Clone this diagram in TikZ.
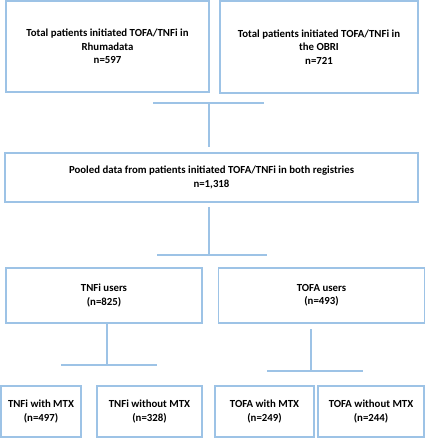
\documentclass[tikz,border=0pt]{standalone}
\usepackage{fontspec}
\setmainfont{Carlito}
\definecolor{boxblue}{HTML}{9DC3E6}
\begin{document}
\begin{tikzpicture}[x=1pt,y=-1pt,
  box/.style={draw=boxblue,line width=1.2pt,fill=white,align=center,inner sep=0pt,
    font=\fontsize{10.8}{13.5}\selectfont\bfseries},
  conn/.style={draw=boxblue,line width=1.2pt}]
\useasboundingbox[fill=white] (0,0) rectangle (425,440);
% top row
\node[box,minimum width=203pt,minimum height=91pt] (rh) at (107.5,46.5)
  {Total patients initiated TOFA/TNFi in\\Rhumadata\\n=597};
\node[box,minimum width=198pt,minimum height=92pt] (ob) at (319,47)
  {Total patients initiated TOFA/TNFi in\\the OBRI\\n=721};
% pooled
\node[box,minimum width=413pt,minimum height=49pt] (pool) at (211.5,177.5)
  {Pooled data from patients initiated TOFA/TNFi in both registries\\n=1,318};
% users
\node[box,minimum width=196pt,minimum height=55pt] (tnf) at (104,295.5)
  {TNFi users\\(n=825)};
\node[box,minimum width=206pt,minimum height=55pt] (tofa) at (321.5,295.5)
  {TOFA users\\(n=493)};
% bottom
\node[box,minimum width=80pt,minimum height=51pt] (tm) at (41,411.5)
  {TNFi with MTX\\(n=497)};
\node[box,minimum width=105pt,minimum height=51pt] (tn) at (149.5,411.5)
  {TNFi without MTX\\(n=328)};
\node[box,minimum width=99pt,minimum height=51pt] (om) at (264.5,411.5)
  {TOFA with MTX\\(n=249)};
\node[box,minimum width=106pt,minimum height=51pt] (on) at (371,411.5)
  {TOFA without MTX\\(n=244)};
% connector coordinates
\coordinate (b1l) at (153,103);
\coordinate (b1r) at (264,103);
\coordinate (b1m) at (209,103);
\coordinate (b1e) at (209,147);
\coordinate (b2s) at (209,207);
\coordinate (b2m) at (209,255);
\coordinate (b2l) at (157,255);
\coordinate (b2r) at (267,255);
\coordinate (b3s) at (107,323);
\coordinate (b3m) at (107,365);
\coordinate (b3l) at (61,365);
\coordinate (b3r) at (157,365);
\coordinate (b4s) at (311,329);
\coordinate (b4m) at (311,371);
\coordinate (b4l) at (267,371);
\coordinate (b4r) at (363,371);
\draw[conn] (b1l) -- (b1r);
\draw[conn] (b1m) -- (b1e);
\draw[conn] (b2s) -- (b2m);
\draw[conn] (b2l) -- (b2r);
\draw[conn] (b3s) -- (b3m);
\draw[conn] (b3l) -- (b3r);
\draw[conn] (b4s) -- (b4m);
\draw[conn] (b4l) -- (b4r);
\end{tikzpicture}
\end{document}
